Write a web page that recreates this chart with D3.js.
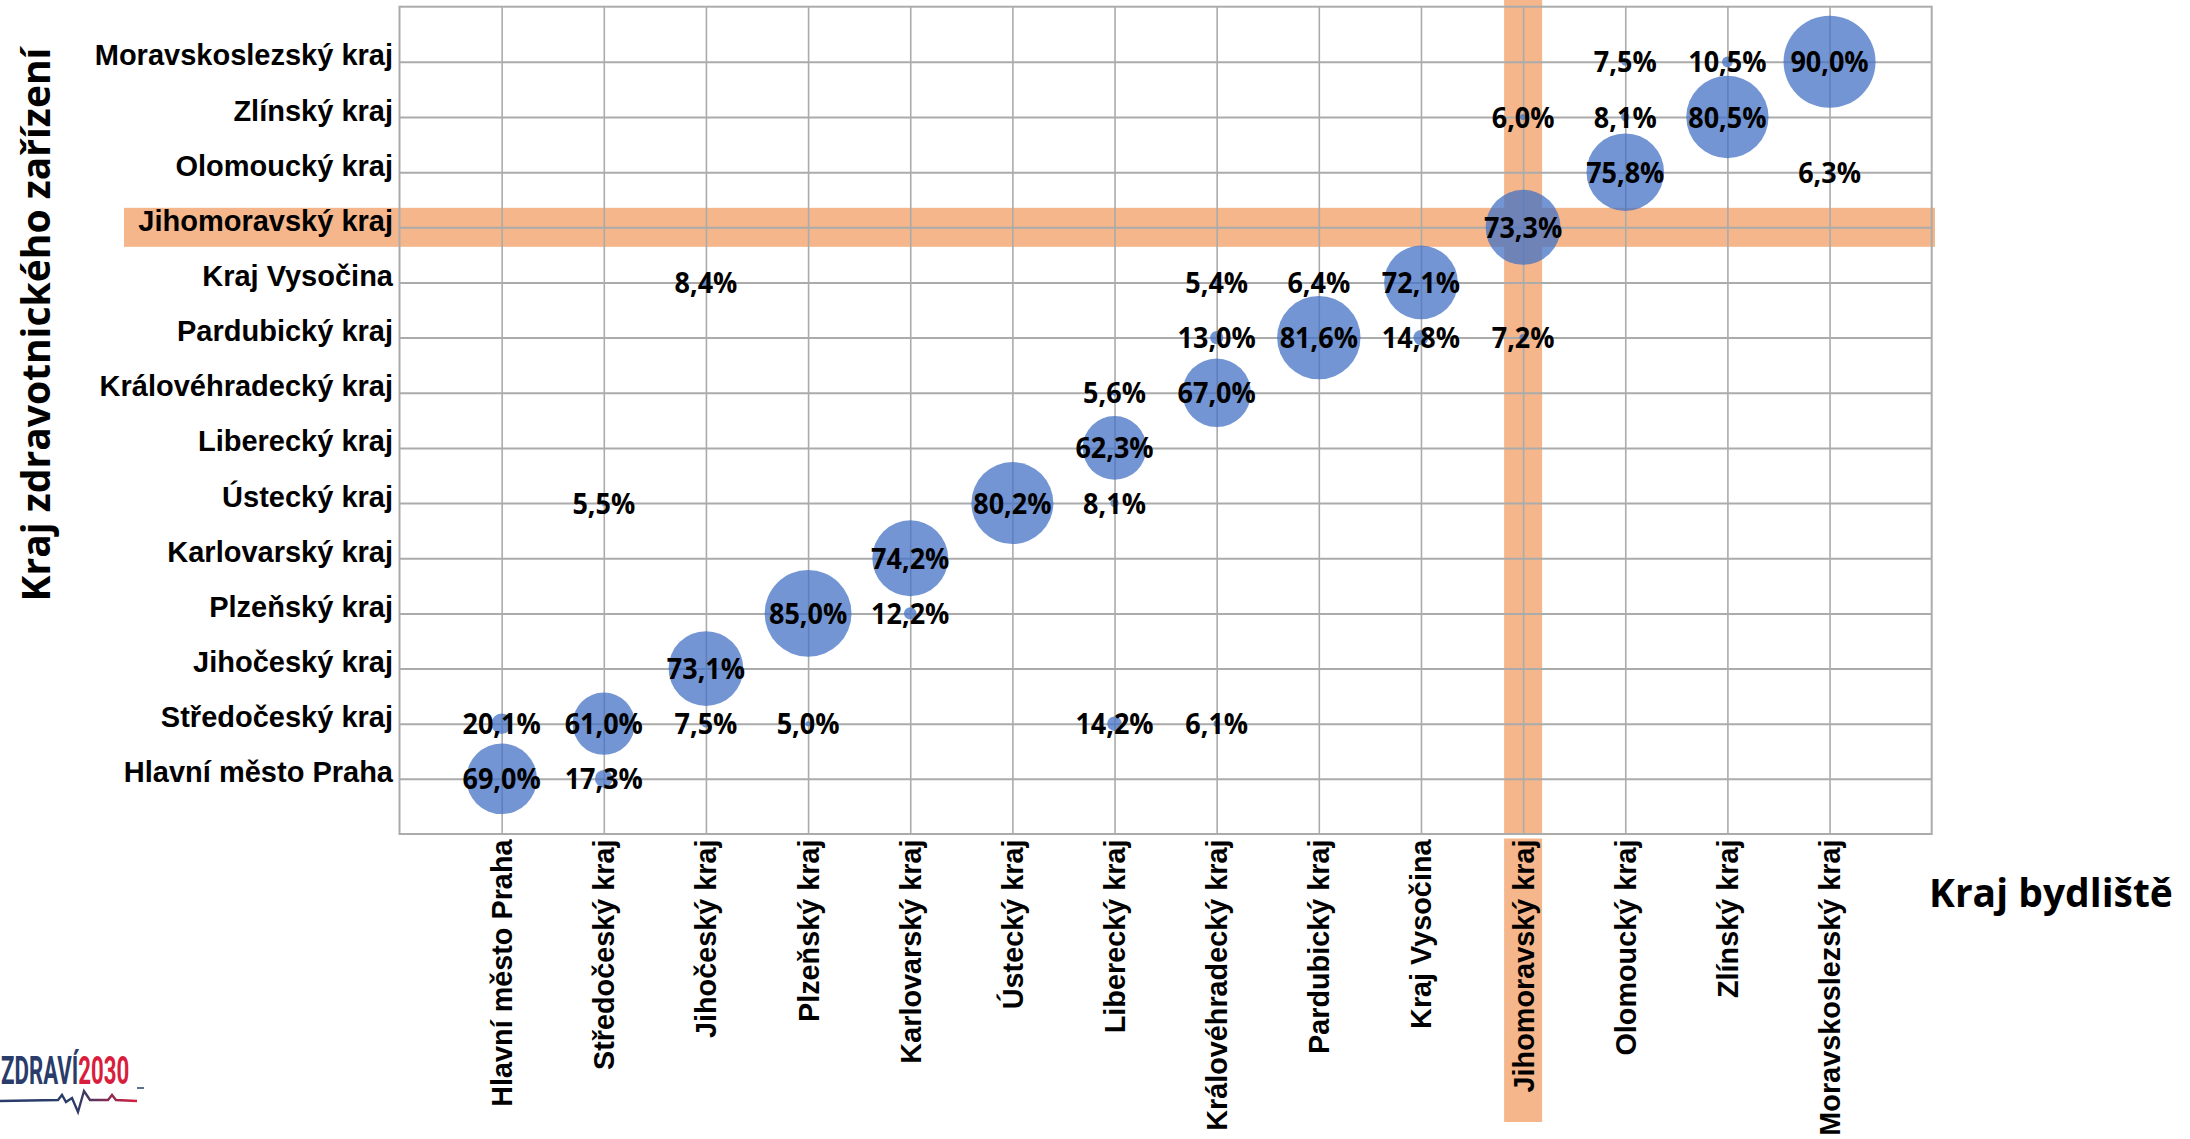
<!DOCTYPE html>
<html><head><meta charset="utf-8">
<script src="https://cdn.jsdelivr.net/npm/d3@7"></script>
<style>
html,body{margin:0;padding:0;background:#fff;}
svg{display:block;}
</style></head>
<body>
<svg id="chart" width="2190" height="1139"></svg>
<script>
// Categories (residence = x, facility = y), same order
const regions = ["Hlavní město Praha","Středočeský kraj","Jihočeský kraj","Plzeňský kraj","Karlovarský kraj","Ústecký kraj","Liberecký kraj","Královéhradecký kraj","Pardubický kraj","Kraj Vysočina","Jihomoravský kraj","Olomoucký kraj","Zlínský kraj","Moravskoslezský kraj"];
// Points: residence index (1-based), facility index (1-based), share in %
const residence = [1,2, 1,2,3,4,7,8, 3, 4,5, 5, 2,6,7, 7, 7,8, 8,9,10,11, 3,8,9,10, 11, 12,14, 11,12,13, 12,13,14];
const facility  = [1,1, 2,2,2,2,2,2, 3, 4,4, 5, 6,6,6, 7, 8,8, 9,9,9,9, 10,10,10,10, 11, 12,12, 13,13,13, 14,14,14];
const share     = [69.0,17.3, 20.1,61.0,7.5,5.0,14.2,6.1, 73.1, 85.0,12.2, 74.2, 5.5,80.2,8.1, 62.3, 5.6,67.0, 13.0,81.6,14.8,7.2, 8.4,5.4,6.4,72.1, 73.3, 75.8,6.3, 6.0,8.1,80.5, 7.5,10.5,90.0];
const highlighted = "Jihomoravský kraj";
const xTitle = "Kraj bydliště";
const yTitle = "Kraj zdravotnického zařízení";

const svg = d3.select("#chart");
const L = 399.5, R = 1931.7, T = 6.7, B = 834;
const x = d3.scaleLinear().domain([0, regions.length + 1]).range([L, R]);
const y = d3.scaleLinear().domain([0, regions.length + 1]).range([B, T]);
const r = d3.scaleLinear().domain([0, 90]).range([0, 46]);
const idx = d3.range(1, regions.length + 1);
const hi = regions.indexOf(highlighted) + 1;
const orange = "#F4B68A";
const grid = "#ABABAB";

// highlight bands
svg.append("rect").attr("x", 124).attr("y", y(hi) - 19.5).attr("width", 1935 - 124).attr("height", 39).attr("fill", orange);
svg.append("rect").attr("x", x(hi) - 19).attr("y", 0).attr("width", 38).attr("height", B).attr("fill", orange);
svg.append("rect").attr("x", x(hi) - 19).attr("y", 838.5).attr("width", 38).attr("height", 1122 - 838.5).attr("fill", orange);

// gridlines
const gx = svg.append("g").attr("transform", `translate(0,${B})`)
  .call(d3.axisBottom(x).tickValues(idx).tickSize(-(B - T)).tickFormat(""));
gx.selectAll("line").attr("stroke", grid).attr("stroke-width", 1.6);
gx.select(".domain").remove();
const gy = svg.append("g").attr("transform", `translate(${L},0)`)
  .call(d3.axisLeft(y).tickValues(idx).tickSize(-(R - L)).tickFormat(""));
gy.selectAll("line").attr("stroke", grid).attr("stroke-width", 2);
gy.select(".domain").remove();
svg.append("rect").attr("x", L).attr("y", T).attr("width", R - L).attr("height", B - T)
  .attr("fill", "none").attr("stroke", grid).attr("stroke-width", 2);

// axis labels
const ax = svg.append("g").attr("transform", `translate(${L},0)`)
  .call(d3.axisLeft(y).tickValues(idx).tickSize(0).tickPadding(6.5).tickFormat(i => regions[i - 1]));
ax.select(".domain").remove();
ax.selectAll("text").attr("dy", "3px").attr("font-family", "'Liberation Sans', Arial, sans-serif")
  .attr("font-weight", "bold").attr("font-size", 29).attr("fill", "#000");

const bx = svg.append("g").attr("transform", `translate(0,${B})`)
  .call(d3.axisBottom(x).tickValues(idx).tickSize(0).tickFormat(i => regions[i - 1]));
bx.select(".domain").remove();
bx.selectAll("text").attr("transform", "rotate(-90)").attr("x", -5.5).attr("y", 10).attr("dy", 0)
  .attr("text-anchor", "end").attr("font-family", "'Liberation Sans', Arial, sans-serif")
  .attr("font-weight", "bold").attr("font-size", 28.8).attr("fill", "#000");

// bubbles
const pts = share.map((v, i) => ({ cx: residence[i], cy: facility[i], v }));
svg.append("g").selectAll("circle").data(pts).join("circle")
  .attr("cx", d => x(d.cx)).attr("cy", d => y(d.cy)).attr("r", d => r(d.v))
  .attr("fill", "#4472C4").attr("fill-opacity", 0.75);

// data labels
svg.append("g").selectAll("text").data(pts).join("text")
  .attr("transform", d => `translate(${x(d.cx)},${y(d.cy) + 10.5}) scale(0.93,1)`)
  .attr("text-anchor", "middle")
  .attr("font-family", "'Open Sans', sans-serif").attr("font-weight", "bold").attr("font-size", 29)
  .attr("fill", "#000")
  .text(d => d3.format(".1f")(d.v).replace(".", ",") + "%");

// titles
svg.append("text").attr("transform", `translate(50,324.5) rotate(-90)`).attr("text-anchor", "middle")
  .attr("font-family", "'Open Sans', sans-serif").attr("font-weight", "bold").attr("font-size", 39)
  .attr("fill", "#000").text(yTitle);
svg.append("text").attr("x", 1929).attr("y", 907)
  .attr("font-family", "'Open Sans', sans-serif").attr("font-weight", "bold").attr("font-size", 39)
  .attr("fill", "#000").text(xTitle);

// logo
const logo = svg.append("g").attr("transform", "translate(1,1084)");
const lt = logo.append("text").attr("transform", "scale(0.57,1)")
  .attr("font-family", "Roboto, sans-serif").attr("font-weight", "bold").attr("font-size", 39);
lt.append("tspan").attr("fill", "#2A3C6A").text("ZDRAVÍ");
lt.append("tspan").attr("fill", "#D81E3C").text("2030");
const grad = svg.append("defs").append("linearGradient").attr("id", "lg").attr("x1", "0%").attr("x2", "100%");
grad.append("stop").attr("offset", "0%").attr("stop-color", "#2A3C6A");
grad.append("stop").attr("offset", "55%").attr("stop-color", "#2A3C6A");
grad.append("stop").attr("offset", "100%").attr("stop-color", "#D81E3C");
svg.append("path").attr("d", "M0,1101 L58,1100 L62,1095 L66,1102 L72,1098 L78,1112 L84,1091 L90,1100 L108,1100 L112,1095 L116,1100 L137,1101")
  .attr("fill", "none").attr("stroke", "url(#lg)").attr("stroke-width", 2.4);
svg.append("line").attr("x1", 137).attr("x2", 144).attr("y1", 1088).attr("y2", 1088).attr("stroke", "#2A3C6A").attr("stroke-width", 1.5);
</script>
</body></html>
